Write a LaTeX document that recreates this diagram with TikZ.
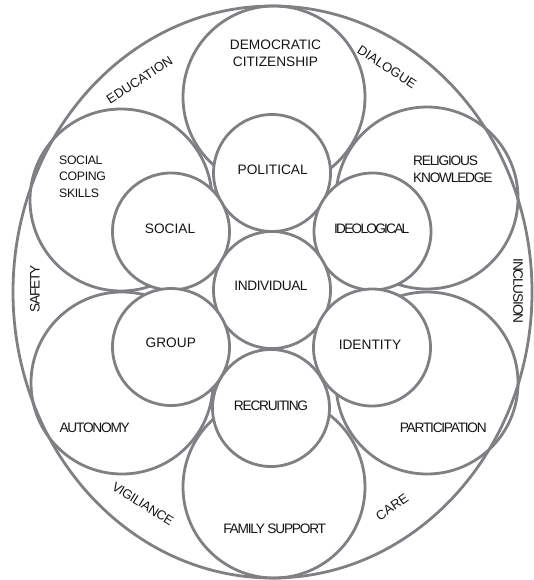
\documentclass[tikz,border=0pt]{standalone}
\usepackage{fontspec}
\setmainfont{Liberation Sans}
\newfontfamily\tightA[LetterSpace=-3]{Liberation Sans}
\newfontfamily\tightB[LetterSpace=-9]{Liberation Sans}
\newfontfamily\tightC[LetterSpace=-13]{Liberation Sans}
\definecolor{ring}{RGB}{128,128,132}
\definecolor{ink}{RGB}{20,20,20}
\begin{document}
\begin{tikzpicture}[x=1pt,y=-1pt,
  bigc/.style={circle,draw=ring,line width=2.8pt,minimum size=182pt,inner sep=0pt},
  smallc/.style={circle,draw=ring,fill=white,line width=2.8pt,minimum size=117pt,inner sep=0pt},
  lbl/.style={inner sep=0pt,text=ink,font=\fontsize{13.7}{16.6}\selectfont},
  lbls/.style={inner sep=0pt,text=ink,font=\fontsize{12.3}{16.3}\selectfont\tightA}]
\useasboundingbox (0,0) rectangle (533,580);
% outer ring
\draw[ring,line width=2.8pt] (272.5,292) ellipse [x radius=259.5pt, y radius=286pt];
% large circles
\node[bigc] (demo) at (274,97) {};
\node[bigc] (coping) at (121,200) {};
\node[bigc] (relig) at (427,198) {};
\node[bigc] (auton) at (122,383) {};
\node[bigc] (partic) at (427,383) {};
\node[bigc] (family) at (274,487) {};
% small circles
\node[smallc] (political) at (272,173) {};
\node[smallc] (social) at (171,231.5) {};
\node[smallc] (ideol) at (372.5,231.5) {};
\node[smallc] (indiv) at (272,290) {};
\node[smallc] (group) at (171,347) {};
\node[smallc] (ident) at (372,347.5) {};
\node[smallc] (recruit) at (271,408) {};
% labels
\node[lbl,align=center] (tdemo) at (275.5,53.5) {DEMOCRATIC\\CITIZENSHIP};
\node[lbls,align=left,anchor=west] (tcoping) at (59,176.7) {SOCIAL\\COPING\\SKILLS};
\node[lbl,align=left,anchor=west,font=\fontsize{13.7}{16.6}\selectfont\tightB] (trelig) at (413,169) {RELIGIOUS\\KNOWLEDGE};
\node[lbl,font=\fontsize{13.7}{16.6}\selectfont\tightB] (tauton) at (94.7,427.3) {AUTONOMY};
\node[lbl,font=\fontsize{13.7}{16.6}\selectfont\tightB] (tpartic) at (443.3,427.7) {PARTICIPATION};
\node[lbl,font=\fontsize{13.7}{16.6}\selectfont\tightB] (tfamily) at (274.7,528.5) {FAMILY SUPPORT};
\node[lbl] (tpolitical) at (272.7,170) {POLITICAL};
\node[lbl] (tsocial) at (170,228.3) {SOCIAL};
\node[lbl,font=\fontsize{13.7}{16.6}\selectfont\tightC] (tideol) at (371.7,228.3) {IDEOLOGICAL};
\node[lbl,font=\fontsize{13.7}{16.6}\selectfont\tightA] (tindiv) at (271,286) {INDIVIDUAL};
\node[lbl] (tgroup) at (170.8,342.7) {GROUP};
\node[lbl] (tident) at (370,345) {IDENTITY};
\node[lbl,font=\fontsize{13.7}{16.6}\selectfont\tightB] (trecruit) at (271,405.7) {RECRUITING};
% outer ring words
\node[lbl,font=\fontsize{13}{16}\selectfont,rotate=33] (teduc) at (139.5,80) {EDUCATION};
\node[lbl,font=\fontsize{13}{16}\selectfont,rotate=-33] (tdial) at (387,67) {DIALOGUE};
\node[lbl,font=\fontsize{13}{16}\selectfont\tightA,rotate=-32] (tvigil) at (143,504) {VIGILIANCE};
\node[lbl,font=\fontsize{13}{16}\selectfont,rotate=35] (tcare) at (392,507) {CARE};
\node[lbl,font=\fontsize{13.7}{16}\selectfont\tightB,rotate=90] (tsafety) at (35,289) {SAFETY};
\node[lbl,font=\fontsize{13.7}{16}\selectfont\tightB,rotate=-90] (tincl) at (518,291) {INCLUSION};
\end{tikzpicture}
\end{document}
